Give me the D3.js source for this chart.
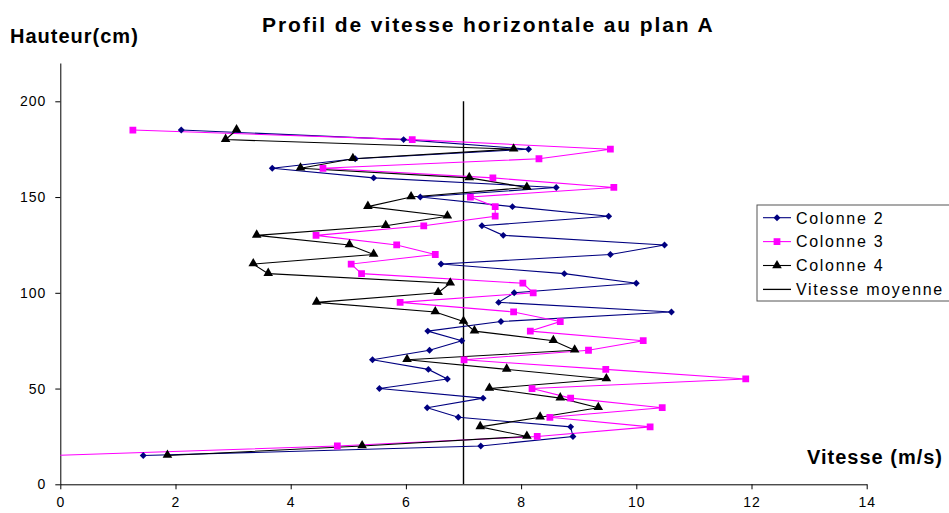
<!DOCTYPE html>
<html>
<head>
<meta charset="utf-8">
<script src="https://cdn.jsdelivr.net/npm/d3@7"></script>
<style>
  body { margin: 0; background: #fff; }
  svg { display: block; font-family: "Liberation Sans", Arial, sans-serif; }
</style>
</head>
<body>
<svg id="chart" width="949" height="513"></svg>
<script>
// heights (cm) of the measurement points, top to bottom
const hauteurs = [185, 180, 175, 170, 165, 160, 155, 150, 145, 140, 135, 130, 125, 120, 115, 110,
  105, 100, 95, 90, 85, 80, 75, 70, 65, 60, 55, 50, 45, 40, 35, 30, 25, 20, 15];

const colonne2 = [2.10, 5.96, 8.13, 5.12, 3.68, 5.44, 8.61, 6.25, 7.85, 9.52, 7.32, 7.69, 10.49, 9.55,
  6.61, 8.75, 10.00, 7.88, 7.61, 10.61, 7.65, 6.38, 6.97, 6.41, 5.42, 6.39, 6.72, 5.54, 7.34, 6.37,
  6.91, 8.86, 8.90, 7.30, 1.44];

const colonne3 = [1.26, 6.11, 9.55, 8.31, 4.56, 7.51, 9.61, 7.12, 7.55, 7.55, 6.31, 4.44, 5.84, 6.51,
  5.05, 5.23, 8.03, 8.21, 5.90, 7.87, 8.68, 8.16, 10.12, 9.17, 7.01, 9.47, 11.90, 8.19, 8.86, 10.45,
  8.50, 10.24, 8.28, 4.81, -0.2];

const colonne4 = [3.06, 2.87, 7.87, 5.08, 4.17, 7.10, 8.10, 6.09, 5.34, 6.72, 5.65, 3.41, 5.02, 5.44,
  3.35, 3.61, 6.77, 6.56, 4.45, 6.51, 7.00, 7.19, 8.56, 8.93, 6.02, 7.75, 9.48, 7.45, 8.68, 9.34,
  8.33, 7.29, 8.10, 5.24, 1.86];

// mean speed, drawn as a vertical line
const vitesseMoyenne = [[7, 0], [7, 200]];

const xTicks = [0, 2, 4, 6, 8, 10, 12, 14];
const yTicks = [0, 50, 100, 150, 200];

const svg = d3.select("#chart");

const x = d3.scaleLinear().domain([0, 14]).range([60.3, 866.7]);
const y = d3.scaleLinear().domain([0, 220]).range([484.3, 63]);

// clip to plot area (pink goes slightly negative at the bottom)
svg.append("clipPath").attr("id", "plot")
  .append("rect")
  .attr("x", x(0)).attr("y", y(220))
  .attr("width", x(14) - x(0)).attr("height", y(0) - y(220));

// axes
const xAxis = svg.append("g")
  .attr("transform", `translate(0,${y(0)})`)
  .call(d3.axisBottom(x).tickValues(xTicks).tickSize(5).tickSizeOuter(0));
xAxis.selectAll("text")
  .attr("y", 13)
  .attr("dy", "0.71em")
  .style("font-size", "14px")
  .style("letter-spacing", "1px")
  .style("font-family", "'Liberation Sans', Arial, sans-serif");

const yAxis = svg.append("g")
  .attr("transform", `translate(${x(0)},0)`)
  .call(d3.axisLeft(y).tickValues(yTicks).tickSize(5).tickSizeOuter(0));
yAxis.selectAll("text")
  .attr("x", -14)
  .style("font-size", "14px")
  .style("letter-spacing", "1px")
  .style("font-family", "'Liberation Sans', Arial, sans-serif");

svg.selectAll(".domain, .tick line").attr("stroke", "#000").attr("stroke-width", 1);

// series
const series = [
  { name: "Colonne 2", values: colonne2, color: "#000080", marker: "diamond" },
  { name: "Colonne 3", values: colonne3, color: "#ff00ff", marker: "square" },
  { name: "Colonne 4", values: colonne4, color: "#000000", marker: "triangle" },
];

// Excel-style diamond = square turned 45 degrees
const symbols = {
  diamond: d3.symbol().type(d3.symbolSquare).size(24),
  square: d3.symbol().type(d3.symbolSquare).size(46),
  triangle: d3.symbol().type(d3.symbolTriangle).size(40),
};
const markerRot = { diamond: 45, square: 0, triangle: 0 };
const markerDy = { diamond: 0, square: 0, triangle: -0.5 };

const line = d3.line().x((d) => x(d[0])).y((d) => y(d[1]));

const plot = svg.append("g").attr("clip-path", "url(#plot)");

plot.append("path")
  .attr("d", line(vitesseMoyenne))
  .attr("fill", "none")
  .attr("stroke", "#000")
  .attr("stroke-width", 1.4);

series.forEach((s) => {
  const pts = s.values.map((v, i) => [v, hauteurs[i]]);
  plot.append("path")
    .attr("d", line(pts))
    .attr("fill", "none")
    .attr("stroke", s.color)
    .attr("stroke-width", 1.1);
});

series.forEach((s) => {
  const pts = s.values.map((v, i) => [v, hauteurs[i]]);
  plot.selectAll(null)
    .data(pts)
    .join("path")
    .attr("d", symbols[s.marker])
    .attr("transform", (d) =>
      `translate(${x(d[0])},${y(d[1]) + markerDy[s.marker]}) rotate(${markerRot[s.marker]})`)
    .attr("fill", s.color);
});

// titles
svg.append("text")
  .attr("x", 262).attr("y", 31.5)
  .style("font-size", "21px").style("font-weight", "bold")
  .style("letter-spacing", "1.9px")
  .text("Profil de vitesse horizontale au plan A");

svg.append("text")
  .attr("x", 10).attr("y", 42.5)
  .style("font-size", "20px").style("font-weight", "bold")
  .style("letter-spacing", "1px")
  .text("Hauteur(cm)");

svg.append("text")
  .attr("x", 807).attr("y", 464)
  .style("font-size", "20px").style("font-weight", "bold")
  .style("letter-spacing", "1px")
  .text("Vitesse (m/s)");

// legend
const legend = svg.append("g").attr("transform", "translate(757,205)");
legend.append("rect")
  .attr("x", 0).attr("y", 0).attr("width", 210).attr("height", 96)
  .attr("fill", "#fff").attr("stroke", "#555").attr("stroke-width", 1);

const legendItems = series.concat([{ name: "Vitesse moyenne", color: "#000", marker: null }]);
legendItems.forEach((s, i) => {
  const cy = 12.7 + i * 23.9;
  legend.append("line")
    .attr("x1", 6).attr("x2", 34).attr("y1", cy).attr("y2", cy)
    .attr("stroke", s.color).attr("stroke-width", s.marker ? 1.1 : 1.3);
  if (s.marker) {
    legend.append("path")
      .attr("d", symbols[s.marker])
      .attr("transform", `translate(20,${cy}) rotate(${markerRot[s.marker]})`)
      .attr("fill", s.color);
  }
  legend.append("text")
    .attr("x", 39).attr("y", cy + 5.8)
    .style("font-size", "16px")
    .style("letter-spacing", "1.7px")
    .text(s.name);
});
</script>
</body>
</html>
